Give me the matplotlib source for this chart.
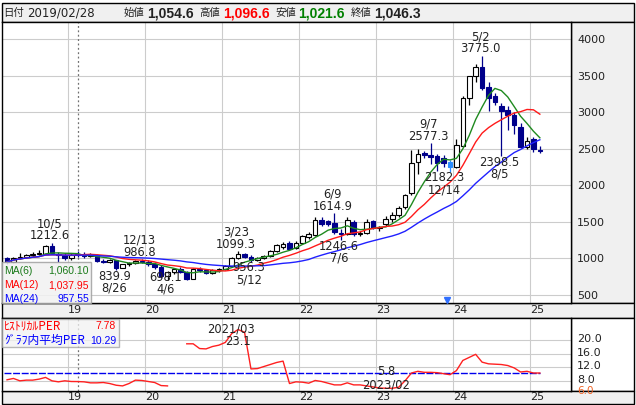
import matplotlib
matplotlib.use('Agg')
import matplotlib.pyplot as plt
import numpy as np
import pandas as pd
from matplotlib.patches import Rectangle
from matplotlib.transforms import blended_transform_factory, ScaledTranslation

# ---------------- data ----------------
months = pd.period_range('2018-03', '2025-02', freq='M').astype(str).tolist()

opens = [1000, 950, 1005, 1025, 1040, 1060, 1065, 1175, 1065, 1040,
         1000, 1054.6, 1046, 1035, 1050, 960, 950, 975, 875, 920,
         935, 965, 955, 930, 880, 760, 810, 850, 820, 725,
         855, 845, 795, 840, 860, 900, 1005, 1060, 1020, 985,
         1005, 1035, 1105, 1150, 1215, 1140, 1215, 1290, 1315, 1520,
         1505, 1490, 1350, 1340, 1500, 1330, 1350, 1510, 1420, 1465,
         1545, 1590, 1700, 1890, 2320, 2445, 2420, 2400, 2370, 2320,
         2250, 2540, 3190, 3490, 3615, 3350, 3215, 3080, 3035, 2965,
         2800, 2525, 2640, 2480]
highs = [1020, 1015, 1075, 1060, 1085, 1110, 1185, 1212.6, 1090, 1070,
         1070, 1096.6, 1090, 1075, 1060, 995, 990, 985, 930, 955,
         975, 986.8, 975, 950, 905, 830, 870, 880, 830, 870,
         880, 860, 850, 870, 915, 1020, 1099.3, 1075, 1040, 1020,
         1040, 1120, 1200, 1230, 1240, 1240, 1320, 1360, 1560, 1560,
         1530, 1614.9, 1400, 1560, 1520, 1380, 1540, 1530, 1450, 1580,
         1640, 1720, 1880, 2484, 2490, 2470, 2577.3, 2430, 2420, 2340,
         2640, 3220, 3500, 3655, 3775.0, 3410, 3260, 3120, 3080, 3000,
         2850, 2660, 2660, 2540]
lows = [930, 940, 990, 1000, 1020, 1040, 1055, 1060, 945, 985,
        985, 1021.6, 1010, 1015, 945, 935, 935, 839.9, 865, 900,
        925, 935, 900, 850, 730, 698.1, 790, 800, 705, 715,
        820, 780, 785, 820, 840, 880, 990, 1010, 956.3, 970,
        990, 1020, 1090, 1130, 1120, 1130, 1200, 1270, 1300, 1450,
        1440, 1340, 1246.6, 1320, 1310, 1300, 1340, 1400, 1380, 1440,
        1500, 1570, 1680, 1870, 2150, 2380, 2290, 2200, 2250, 2182.3,
        2240, 2520, 3100, 3420, 3300, 3010, 3100, 2398.5, 2760, 2700,
        2510, 2500, 2460, 2440]
closes = [950, 1005, 1025, 1040, 1060, 1070, 1175, 1070, 1040, 1010,
          1050, 1046.3, 1035, 1050, 960, 950, 975, 875, 920, 935,
          965, 955, 930, 880, 760, 810, 850, 820, 725, 855,
          845, 795, 840, 860, 900, 1005, 1065, 1020, 985, 1005,
          1030, 1105, 1185, 1200, 1135, 1215, 1300, 1340, 1530, 1465,
          1465, 1355, 1340, 1520, 1330, 1350, 1500, 1420, 1435, 1545,
          1590, 1685, 1865, 2305, 2430, 2410, 2385, 2310, 2300, 2250,
          2555, 3190, 3490, 3615, 3325, 3200, 3135, 3010, 2965, 2830,
          2525, 2610, 2500, 2470]

per = [8.3, 8.7, 8.0, 8.2, 8.2, 8.5, 9.0, 8.0, 7.7, 8.0,
       7.8, 7.78, 7.7, 7.4, 7.4, 7.5, 7.2, 6.7, 6.5, 7.2,
       8.2, 8.1, 7.8, 7.5, 6.6, 6.5, np.nan, np.nan, 18.9, 18.9,
       17.5, 17.4, 18.1, 18.5, 19.3, 21.9, 23.1, 22.3, 11.5, 11.6,
       12.2, 12.8, 13.4, 13.8, 7.2, 7.7, 7.6, 7.3, 8.1, 7.8,
       7.3, 6.8, 6.8, 7.4, 6.8, 6.8, 6.5, 6.2, 5.9, 5.8,
       5.8, 6.1, 8.0, 10.3, 10.8, 10.5, 10.5, 10.4, 10.1, 9.8,
       11.0, 14.0, 14.9, 15.8, 13.5, 13.0, 12.9, 12.8, 12.5, 11.8,
       10.6, 10.8, 10.3, 10.3]
per_avg = 10.29

year_labels = ['19', '20', '21', '22', '23', '24', '25']
price_ticks = [500, 1000, 1500, 2000, 2500, 3000, 3500, 4000]
per_ticks = [8.0, 12.0, 16.0, 20.0]
per_min_label = 6.0

# annotations: (month, value, date text, kind)
hl_marks = [('2018-10', 1212.6, '10/5', 'H'), ('2019-08', 839.9, '8/26', 'L'),
            ('2019-12', 986.8, '12/13', 'H'), ('2020-04', 698.1, '4/6', 'L'),
            ('2021-03', 1099.3, '3/23', 'H'), ('2021-05', 956.3, '5/12', 'L'),
            ('2022-06', 1614.9, '6/9', 'H'), ('2022-07', 1246.6, '7/6', 'L'),
            ('2023-09', 2577.3, '9/7', 'H'), ('2023-12', 2182.3, '12/14', 'L'),
            ('2024-05', 3775.0, '5/2', 'H'), ('2024-08', 2398.5, '8/5', 'L')]
per_marks = [('2021-03', 23.1, '2021/03', 'H'), ('2023-02', 5.8, '2023/02', 'L')]

cursor_month = '2019-02'
highlight_month = '2023-12'
event_month = '2023-11'

ma_legend = [('MA(6)', '1,060.10', '#1a7a1a'), ('MA(12)', '1,037.95', '#ff0000'),
             ('MA(24)', '957.55', '#0000ff')]
per_legend = [('ﾋｽﾄﾘｶﾙPER', '7.78', '#ff0000'), ('ｸﾞﾗﾌ内平均PER', '10.29', '#0000ff')]

header = [('日付', None, 'label'), ('2019/02/28', '#222222', 'date'),
          ('始値', None, 'label'), ('1,054.6', '#222222', 'num'),
          ('高値', None, 'label'), ('1,096.6', '#ff0000', 'num'),
          ('安値', None, 'label'), ('1,021.6', '#008000', 'num'),
          ('終値', None, 'label'), ('1,046.3', '#222222', 'num')]

# ---------------- figure ----------------
W, H = 636, 405
fig = plt.figure(figsize=(W / 100, H / 100), dpi=100)


def rect(x0, y0, x1, y1):
    return [x0 / W, 1 - y1 / H, (x1 - x0) / W, (y1 - y0) / H]


bg = fig.add_axes([0, 0, 1, 1], zorder=0)
bg.set_xlim(0, W); bg.set_ylim(H, 0); bg.axis('off')
GR = '#f0f0f0'
for (x0, y0, x1, y1, fc) in [(2, 3, 634, 22, GR), (571, 22, 634, 303, GR),
                             (2, 303, 634, 318, GR), (571, 318, 634, 391, 'white'),
                             (2, 391, 634, 404, GR)]:
    bg.add_patch(Rectangle((x0, y0), x1 - x0, y1 - y0, facecolor=fc,
                           edgecolor='black', linewidth=1.0))

cjk = ['Noto Sans CJK JP', 'DejaVu Sans']
hx = [3, 27, 124, 147, 199, 223, 275, 298, 351, 374]
for (txt, col, kind), x in zip(header, hx):
    if kind == 'label':
        bg.text(x, 13, txt, fontsize=7.5, family=cjk, va='center', ha='left', color='#222222')
    elif kind == 'date':
        bg.text(x, 13, txt, fontsize=8.5, family='DejaVu Sans', va='center', ha='left', color=col)
    else:
        bg.text(x, 13.5, txt, fontsize=10, family='Liberation Sans', fontweight='bold',
                va='center', ha='left', color=col)

idx = np.arange(len(months))
pos = {m: i for i, m in enumerate(months)}
o = np.array(opens); h = np.array(highs); l = np.array(lows); c = np.array(closes)

XL = (-0.78, 87.85)
year_pos = [pos['%d-01' % (2000 + int(y))] - 0.5 for y in year_labels
            if ('%d-01' % (2000 + int(y))) in pos]

ax = fig.add_axes(rect(2, 22, 571, 303), zorder=2)
ax.set_xlim(*XL)
ax.set_ylim(390, 4234)
ax.set_facecolor('white')
for y in price_ticks:
    ax.axhline(y, color='#cccccc', lw=0.8, zorder=0)
for x in year_pos:
    ax.axvline(x, color='#cccccc', lw=0.8, zorder=0)
ax.axvline(pos[cursor_month], color='#707070', lw=0.9, ls=(0, (1.5, 2)), zorder=1)

NAVY = '#00008b'
HL = '#2a8cff'
for i in idx:
    up = c[i] >= o[i]
    if months[i] == highlight_month:
        fc = ec = HL
    elif up:
        fc, ec = 'white', 'black'
    else:
        fc = ec = NAVY
    ax.vlines(i, l[i], h[i], color=ec, lw=0.9, zorder=2)
    bot = min(o[i], c[i]); ht = max(abs(c[i] - o[i]), 6)
    ax.bar(i, ht, bottom=bot, width=0.72, facecolor=fc, edgecolor=ec, lw=0.8, zorder=3)

cs = pd.Series(c)
for n, col in [(6, '#1f8a1f'), (12, '#ff1a1a'), (24, '#2020ff')]:
    ax.plot(idx, cs.rolling(n, min_periods=1).mean(), color=col, lw=1.0, zorder=4)

ax.plot(pos[event_month] + 0.5, 0.012, marker='v', color='#2f6fff', ms=5, mec='#2f6fff',
        transform=blended_transform_factory(ax.transData, ax.transAxes), clip_on=False, zorder=5)

afont = dict(fontsize=8.3, family='DejaVu Sans', color='#222222', ha='center', va='center')
for m, v, d, k in hl_marks:
    i = pos[m]
    dx = -6 if d == '12/14' else -2
    if k == 'H':
        o1, o2 = 7, 19
    elif m == '2020-04':
        o1, o2 = 3, -9
    else:
        o1, o2 = -6, -18
    ax.annotate('%.1f' % v, (i, v), xytext=(dx, o1), textcoords='offset pixels', zorder=6, **afont)
    ax.annotate(d, (i, v), xytext=(dx, o2), textcoords='offset pixels', zorder=6, **afont)

ax.yaxis.tick_right()
ax.set_yticks(price_ticks)
ax.set_yticklabels([str(t) for t in price_ticks])
ax.set_xticks(year_pos)
ax.set_xticklabels(year_labels, ha='left')
ax.tick_params(axis='both', length=0, labelsize=8, labelcolor='#222222')
ax.tick_params(axis='y', pad=4.5)
ax.tick_params(axis='x', pad=1.5)
for s in ax.spines.values():
    s.set_color('black'); s.set_linewidth(1.0)

# ---------------- PER panel ----------------
px = fig.add_axes(rect(2, 318, 571, 391), zorder=2)
px.set_xlim(*XL)
px.set_ylim(5.0, 26.5)
px.set_facecolor('white')
for y in per_ticks:
    px.axhline(y, color='#cccccc', lw=0.8, zorder=0)
for x in year_pos:
    px.axvline(x, color='#cccccc', lw=0.8, zorder=0)
px.axvline(pos[cursor_month], color='#707070', lw=0.9, ls=(0, (1.5, 2)), zorder=1)
px.plot([idx[0] - 0.5, idx[-1]], [per_avg, per_avg], color='#0000ee', lw=1.0,
        ls=(0, (5, 1.2)), zorder=2)
px.plot(idx, per, color='#ff2020', lw=1.0, zorder=3)
for m, v, d, k in per_marks:
    i = pos[m]
    if k == 'H':
        px.annotate(d, (i, v), xytext=(-7, 1), textcoords='offset pixels', zorder=6, **afont)
        px.annotate('%.1f' % v, (i, v), xytext=(0, -12), textcoords='offset pixels', zorder=6, **afont)
    else:
        px.annotate('%.1f' % v, (i, v), xytext=(0, 17), textcoords='offset pixels', zorder=6, **afont)
        px.annotate(d, (i, v), xytext=(0, 3), textcoords='offset pixels', zorder=6, **afont)

px.yaxis.tick_right()
px.set_yticks(per_ticks)
px.set_yticklabels(['%.1f' % t for t in per_ticks])
px.set_xticks(year_pos)
px.set_xticklabels(year_labels, ha='left')
px.tick_params(axis='both', length=0, labelsize=8, labelcolor='#222222')
px.tick_params(axis='y', pad=4.5)
px.tick_params(axis='x', pad=1.0)
shift_up = ScaledTranslation(0, 2.0 / 100, fig.dpi_scale_trans)
for lab in px.get_yticklabels():
    lab.set_transform(lab.get_transform() + shift_up)
for s in px.spines.values():
    s.set_color('black'); s.set_linewidth(1.0)

# ---------------- overlay legends ----------------
fg = fig.add_axes([0, 0, 1, 1], zorder=10)
fg.set_xlim(0, W); fg.set_ylim(H, 0); fg.axis('off')
fg.patch.set_alpha(0)

# lowest PER-axis label, clipped by the panel border like the reference
y6 = px.transData.transform((0, per_min_label))[1]
y6_pix = H - y6 + 3.0
clip_box = Rectangle((571, 318), 63, 72.5, transform=fg.transData, facecolor='none')
t6 = fg.text(577, y6_pix, '%.1f' % per_min_label, fontsize=7.5, color='#f06020',
             va='center', ha='left')
t6.set_clip_path(clip_box)

fg.add_patch(Rectangle((2, 262), 89, 41, facecolor='#f2f2f2', alpha=0.85,
                       edgecolor='#a0a0a0', lw=1.0))
for k, (name, val, col) in enumerate(ma_legend):
    y = 270.5 + k * 14.5
    fg.text(4, y, name, fontsize=7.5, family='Liberation Sans', color=col, va='center', ha='left')
    fg.text(89, y, val, fontsize=7.5, family='Liberation Sans', color=col, va='center', ha='right')
fg.add_patch(Rectangle((2, 319), 117, 28, facecolor='#f2f2f2', alpha=0.75,
                       edgecolor='#a0a0a0', lw=1.0))
for k, (name, val, col) in enumerate(per_legend):
    y = 326 + k * 14.5
    fg.text(4, y, name, fontsize=8.5, family=cjk, color=col, va='center', ha='left')
    fg.text(116, y, val, fontsize=7.5, family='Liberation Sans', color=col, va='center', ha='right')

fig.savefig('out.png', dpi=100)
